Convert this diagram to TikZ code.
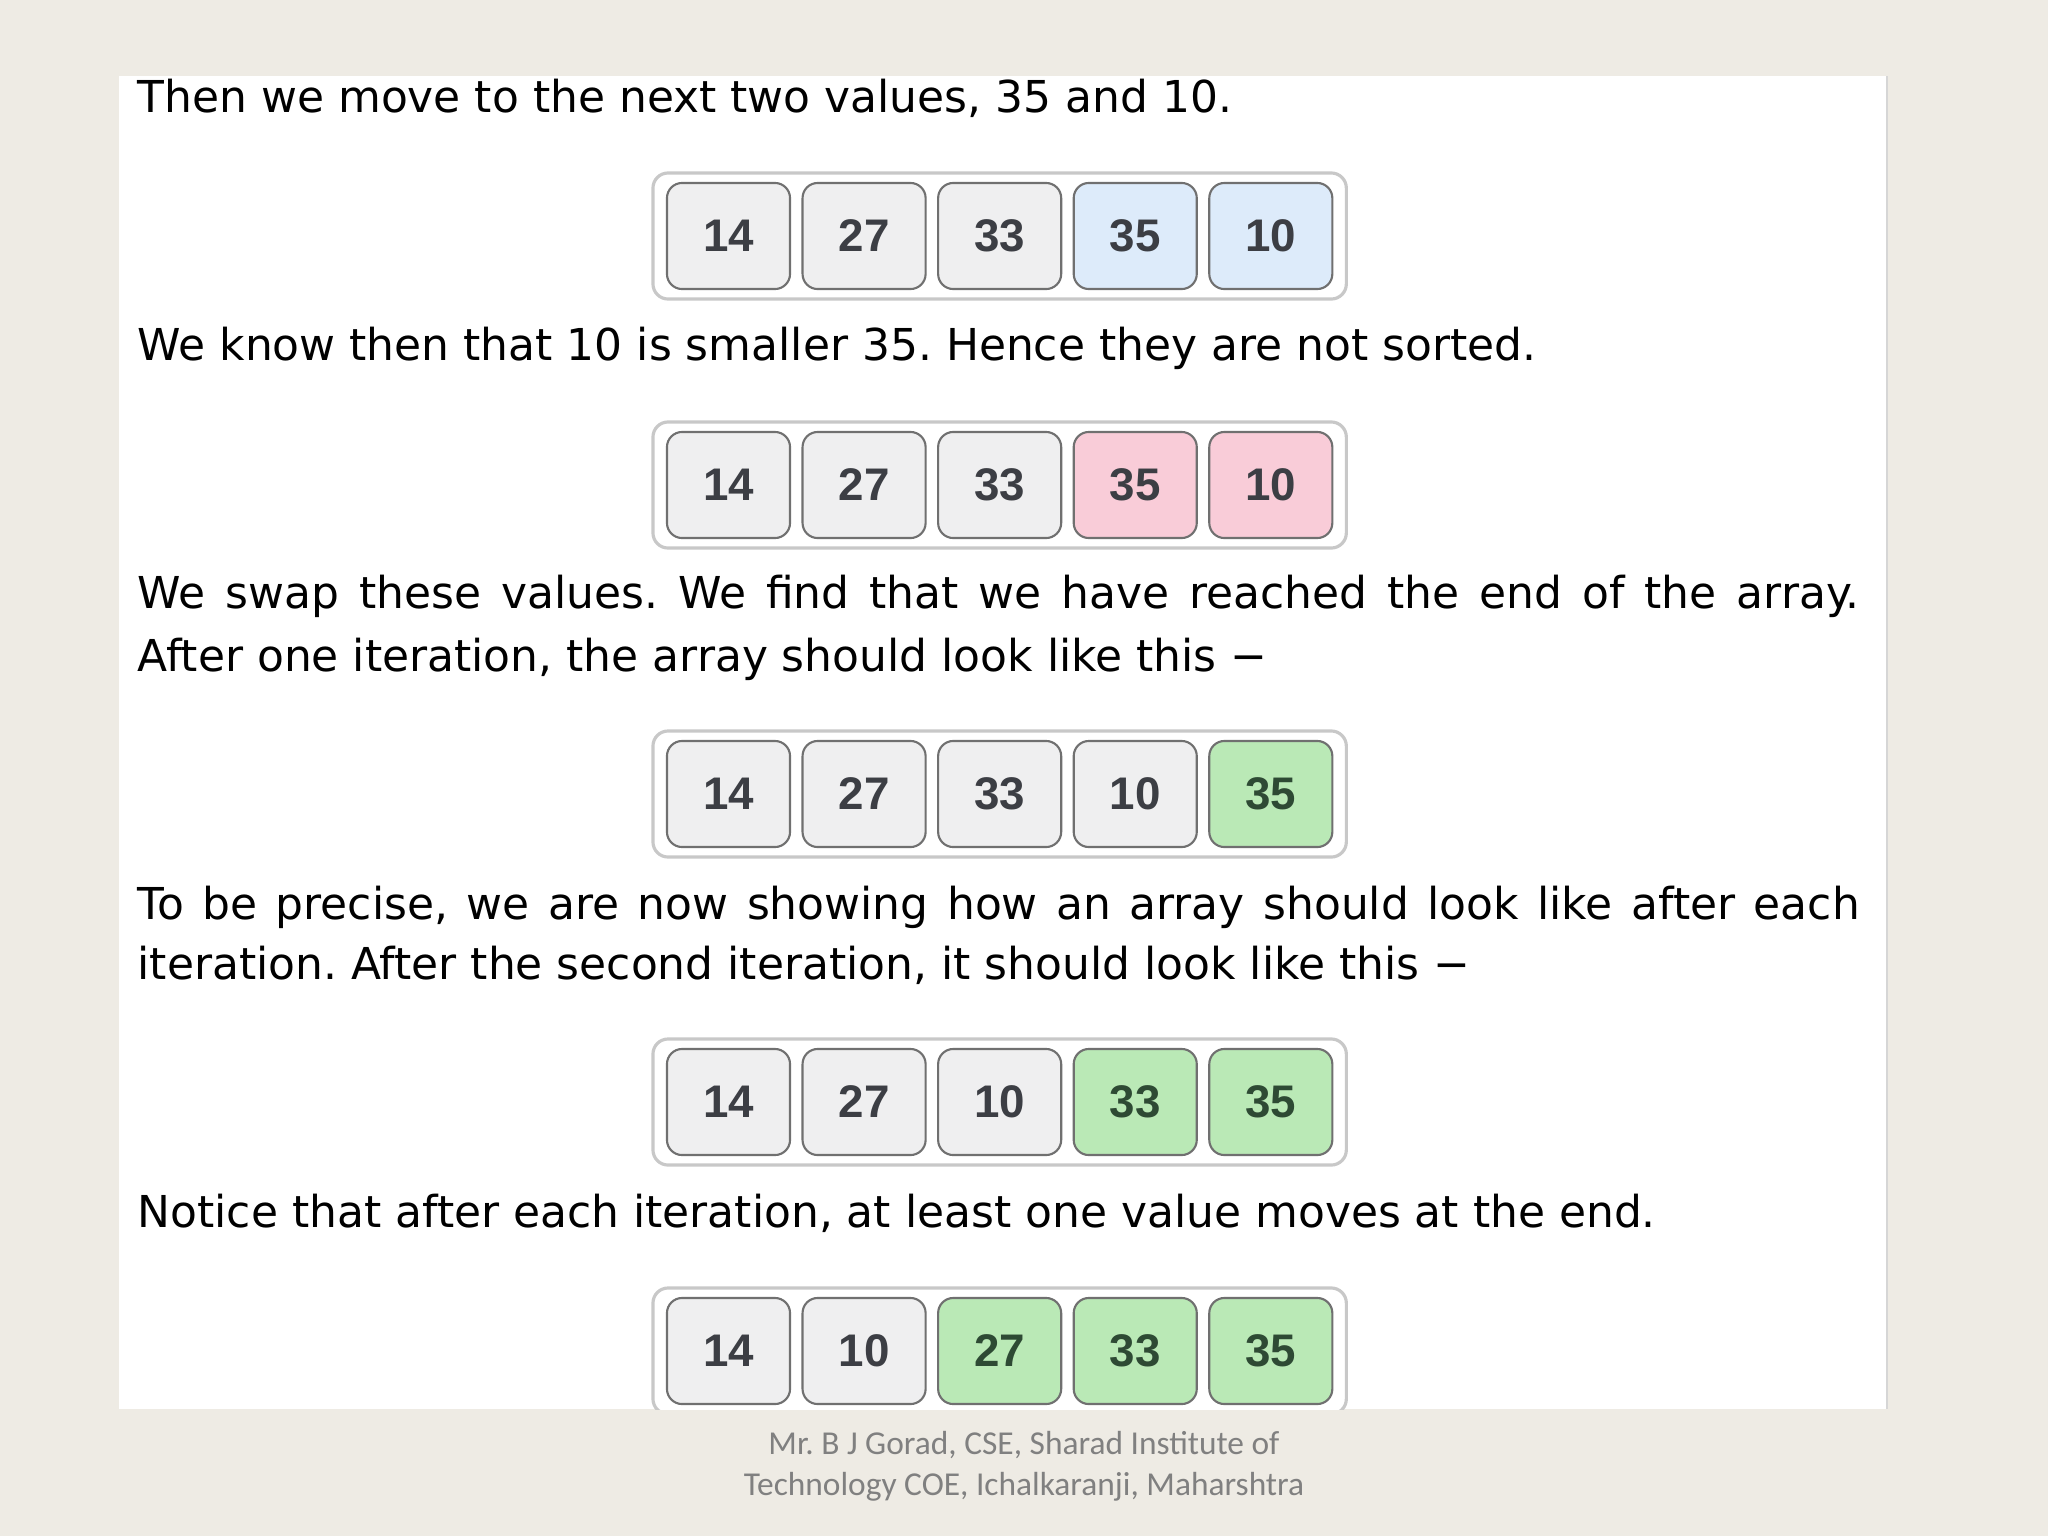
\documentclass[tikz,border=0pt]{standalone}
\usepackage{fontspec}
\setmainfont{DejaVu Sans}
\newfontfamily\numfont{Liberation Sans}
\newfontfamily\footfont{Carlito}
\usepackage{xcolor}
\usepackage{tikz}
\usetikzlibrary{calc,positioning,backgrounds}

\definecolor{slidebg}{RGB}{238,235,228}
\definecolor{panelline}{RGB}{214,214,214}
\definecolor{framegray}{RGB}{200,200,200}
\definecolor{cellline}{RGB}{112,112,112}
\definecolor{numtext}{RGB}{60,62,68}
\definecolor{idlefill}{RGB}{239,239,240}
\definecolor{comparefill}{RGB}{221,235,250}
\definecolor{swapfill}{RGB}{249,204,216}
\definecolor{sortedfill}{RGB}{186,233,182}
\definecolor{sortedtext}{RGB}{46,74,52}
\definecolor{footgray}{RGB}{128,128,128}

\frenchspacing

\begin{document}
\begin{tikzpicture}[x=0.01cm, y=-0.01cm,
    txt/.style={anchor=base west, inner sep=0pt, font=\fontsize{12.5}{15}\selectfont},
    cell/.style={draw=cellline, line width=0.6pt, rounded corners=4.3pt,
        minimum width=1.23cm, minimum height=1.06cm, inner sep=0pt, outer sep=0pt,
        font=\numfont\bfseries\fontsize{13}{15}\selectfont, text=numtext},
    idle/.style={cell, fill=idlefill},
    compare/.style={cell, fill=comparefill},
    swap/.style={cell, fill=swapfill},
    sorted/.style={cell, fill=sortedfill, text=sortedtext},
    frame/.style={draw=framegray, line width=0.9pt, fill=white, rounded corners=4.3pt}]

    \useasboundingbox (0,0) rectangle (2048,1536);

    \begin{scope}[on background layer]
        \fill[slidebg] (0,0) rectangle (2048,1536);
        \fill[white] (119,76) rectangle (1887,1409);
        \draw[panelline, line width=0.6pt] (1887,76) -- (1887,1409);
    \end{scope}

    % text lines
    \node [txt] (then) at (137,112) {Then we move to the next two values, 35 and 10.};
    \node [txt] (know) at (137,360) {We know then that 10 is smaller 35. Hence they are not sorted.};
    \node [txt] (swapline) at (137,608) {\makebox[17.21cm][s]{We swap these values. We find that we have reached the end of the array.}};
    \node [txt] (after) at (137,671) {After one iteration, the array should look like this −};
    \node [txt] (precise) at (137,919) {\makebox[17.21cm][s]{To be precise, we are now showing how an array should look like after each}};
    \node [txt] (second) at (137,979) {iteration. After the second iteration, it should look like this −};
    \node [txt] (notice) at (137,1227) {Notice that after each iteration, at least one value moves at the end.};

    % first array
    \node [idle] (a1) at (728.5,236) {14};
    \node [idle, right=0.125cm of a1] (a2) {27};
    \node [idle, right=0.125cm of a2] (a3) {33};
    \node [compare, right=0.125cm of a3] (a4) {35};
    \node [compare, right=0.125cm of a4] (a5) {10};

    % second array
    \node [idle] (b1) at (728.5,485) {14};
    \node [idle, right=0.125cm of b1] (b2) {27};
    \node [idle, right=0.125cm of b2] (b3) {33};
    \node [swap, right=0.125cm of b3] (b4) {35};
    \node [swap, right=0.125cm of b4] (b5) {10};

    % third array
    \node [idle] (c1) at (728.5,794) {14};
    \node [idle, right=0.125cm of c1] (c2) {27};
    \node [idle, right=0.125cm of c2] (c3) {33};
    \node [idle, right=0.125cm of c3] (c4) {10};
    \node [sorted, right=0.125cm of c4] (c5) {35};

    % fourth array
    \node [idle] (d1) at (728.5,1102) {14};
    \node [idle, right=0.125cm of d1] (d2) {27};
    \node [idle, right=0.125cm of d2] (d3) {10};
    \node [sorted, right=0.125cm of d3] (d4) {33};
    \node [sorted, right=0.125cm of d4] (d5) {35};

    % fifth array
    \node [idle] (e1) at (728.5,1351) {14};
    \node [idle, right=0.125cm of e1] (e2) {10};
    \node [sorted, right=0.125cm of e2] (e3) {27};
    \node [sorted, right=0.125cm of e3] (e4) {33};
    \node [sorted, right=0.125cm of e4] (e5) {35};

    \begin{scope}[on background layer]
        \draw[frame] ($(a1.north west)+(-14,-10)$) rectangle ($(a5.south east)+(14,10)$);
        \draw[frame] ($(b1.north west)+(-14,-10)$) rectangle ($(b5.south east)+(14,10)$);
        \draw[frame] ($(c1.north west)+(-14,-10)$) rectangle ($(c5.south east)+(14,10)$);
        \draw[frame] ($(d1.north west)+(-14,-10)$) rectangle ($(d5.south east)+(14,10)$);
        \begin{scope}
            \clip (119,76) rectangle (1887,1409);
            \draw[frame] ($(e1.north west)+(-14,-10)$) rectangle ($(e5.south east)+(14,10)$);
        \end{scope}
    \end{scope}

    \node [anchor=base, align=center, inner sep=0pt, text=footgray,
        font=\footfont\fontsize{9.5}{11.4}\selectfont] (credit) at (1024,1495)
        {Mr. B J Gorad, CSE, Sharad Institute of\\Technology COE, Ichalkaranji, Maharshtra};

\end{tikzpicture}
\end{document}
